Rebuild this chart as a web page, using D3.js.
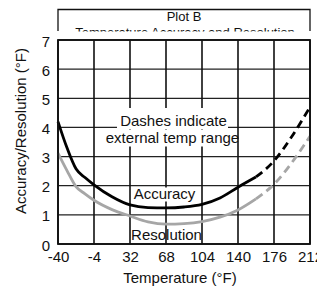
<!DOCTYPE html>
<html>
<head>
<meta charset="utf-8">
<script src="https://cdn.jsdelivr.net/npm/d3@7"></script>
<style>
  body { margin: 0; background: #fff; }
  svg { display: block; font-family: "Liberation Sans", Arial, sans-serif; }
</style>
</head>
<body>
<svg id="chart" width="317" height="286"></svg>
<script>
var temps      = [-40, -31, -22, -13, -4, 14, 32, 50, 68, 86, 104, 122, 140, 158, 176, 194, 212],
    accuracy   = [4.2, 3.3, 2.58, 2.28, 2.03, 1.62, 1.34, 1.25, 1.24, 1.27, 1.36, 1.58, 1.95, 2.3, 2.85, 3.7, 4.7],
    resolution = [3.12, 2.52, 1.97, 1.72, 1.5, 1.18, 0.96, 0.76, 0.68, 0.7, 0.77, 0.92, 1.17, 1.55, 2.05, 2.8, 3.7],
    xTicks = [-40, -4, 32, 68, 104, 140, 176, 212],
    yTicks = [0, 1, 2, 3, 4, 5, 6, 7],
    extRangeStart = 158;

var svg = d3.select("#chart"),
    plotLeft = 58, plotRight = 310, plotTop = 40, plotBottom = 244;

var x = d3.scaleLinear().domain([-40, 212]).range([plotLeft, plotRight]),
    y = d3.scaleLinear().domain([0, 7]).range([plotBottom, plotTop]);

// title box, clipped at the top of the plot
svg.append("clipPath").attr("id", "titleClip")
  .append("rect").attr("x", 0).attr("y", 0).attr("width", 317).attr("height", 31.5);
var title = svg.append("g").attr("clip-path", "url(#titleClip)");
title.append("path")
  .attr("d", "M" + plotLeft + ",31V9.5H" + plotRight + "V31")
  .attr("fill", "none").attr("stroke", "#111").attr("stroke-width", 1.3);
title.append("text").attr("x", 184).attr("y", 20.5).attr("text-anchor", "middle")
  .attr("font-size", 13).attr("fill", "#111").text("Plot B");
title.append("text").attr("x", 185).attr("y", 37).attr("text-anchor", "middle")
  .attr("font-size", 13).attr("fill", "#111").text("Temperature Accuracy and Resolution");

// grid
var grid = svg.append("g");
grid.selectAll(".hgrid").data(yTicks)
  .enter().append("line")
  .attr("class", "hgrid")
  .attr("x1", plotLeft).attr("x2", plotRight)
  .attr("y1", function(d) { return y(d); })
  .attr("y2", function(d) { return y(d); })
  .attr("stroke", "#222").attr("stroke-width", 1.3);
grid.selectAll(".vgrid").data(xTicks)
  .enter().append("line")
  .attr("class", "vgrid")
  .attr("x1", function(d) { return x(d); })
  .attr("x2", function(d) { return x(d); })
  .attr("y1", plotTop).attr("y2", plotBottom)
  .attr("stroke", "#111").attr("stroke-width", 1.6);

// white backgrounds behind the annotations
var bg = svg.append("g").attr("fill", "#fff");
bg.append("rect").attr("x", 117).attr("y", 108).attr("width", 111).attr("height", 21);
bg.append("rect").attr("x", 106).attr("y", 129.5).attr("width", 131).attr("height", 17);
bg.append("rect").attr("x", 133).attr("y", 187.5).attr("width", 63).attr("height", 14);

// curves: solid inside the range, dashed outside
var pts = function(vals) { return temps.map(function(t, i) { return [t, vals[i]]; }); };
var line = d3.line()
  .x(function(d) { return x(d[0]); })
  .y(function(d) { return y(d[1]); })
  .curve(d3.curveMonotoneX);

function drawSeries(vals, color) {
  var p = pts(vals);
  svg.append("path").datum(p.filter(function(d) { return d[0] <= extRangeStart; }))
    .attr("d", line).attr("fill", "none").attr("stroke", color).attr("stroke-width", 2.8);
  svg.append("path").datum(p.filter(function(d) { return d[0] >= extRangeStart; }))
    .attr("d", line).attr("fill", "none").attr("stroke", color).attr("stroke-width", 2.8)
    .attr("stroke-dasharray", "8,5");
}
drawSeries(resolution, "#a6a6a6");
drawSeries(accuracy, "#000");

// annotations
var notes = svg.append("g").attr("font-size", 15).attr("fill", "#111").attr("text-anchor", "middle");
notes.append("text").attr("x", 173.5).attr("y", 126).text("Dashes indicate");
notes.append("text").attr("x", 172.5).attr("y", 143).text("external temp range");
notes.append("text").attr("x", 164.5).attr("y", 198.5).text("Accuracy");
notes.append("text").attr("x", 166.5).attr("y", 240).text("Resolution");

// frame
svg.append("rect").attr("x", plotLeft).attr("y", plotTop)
  .attr("width", plotRight - plotLeft).attr("height", plotBottom - plotTop)
  .attr("fill", "none").attr("stroke", "#111").attr("stroke-width", 1.8);

// axes
var xAxis = svg.append("g").attr("transform", "translate(0," + plotBottom + ")")
  .call(d3.axisBottom(x).tickValues(xTicks).tickSize(0).tickPadding(7)
    .tickFormat(function(d) { return String(d); }));
var yAxis = svg.append("g").attr("transform", "translate(" + plotLeft + ",0)")
  .call(d3.axisLeft(y).tickValues(yTicks).tickSize(0).tickPadding(8)
    .tickFormat(function(d) { return String(d); }));
[xAxis, yAxis].forEach(function(a) {
  a.select(".domain").remove();
  a.selectAll("text").attr("font-size", 15).attr("fill", "#111")
    .attr("font-family", "'Liberation Sans', Arial, sans-serif");
});
xAxis.selectAll("text").attr("dy", "0.72em");
yAxis.selectAll("text").attr("dy", "0.4em");

svg.append("text").attr("x", 180).attr("y", 283).attr("text-anchor", "middle")
  .attr("font-size", 15).attr("fill", "#111").text("Temperature (°F)");
svg.append("text").attr("transform", "translate(26,131) rotate(-90)")
  .attr("text-anchor", "middle").attr("font-size", 15).attr("fill", "#111")
  .text("Accuracy/Resolution (°F)");
</script>
</body>
</html>
